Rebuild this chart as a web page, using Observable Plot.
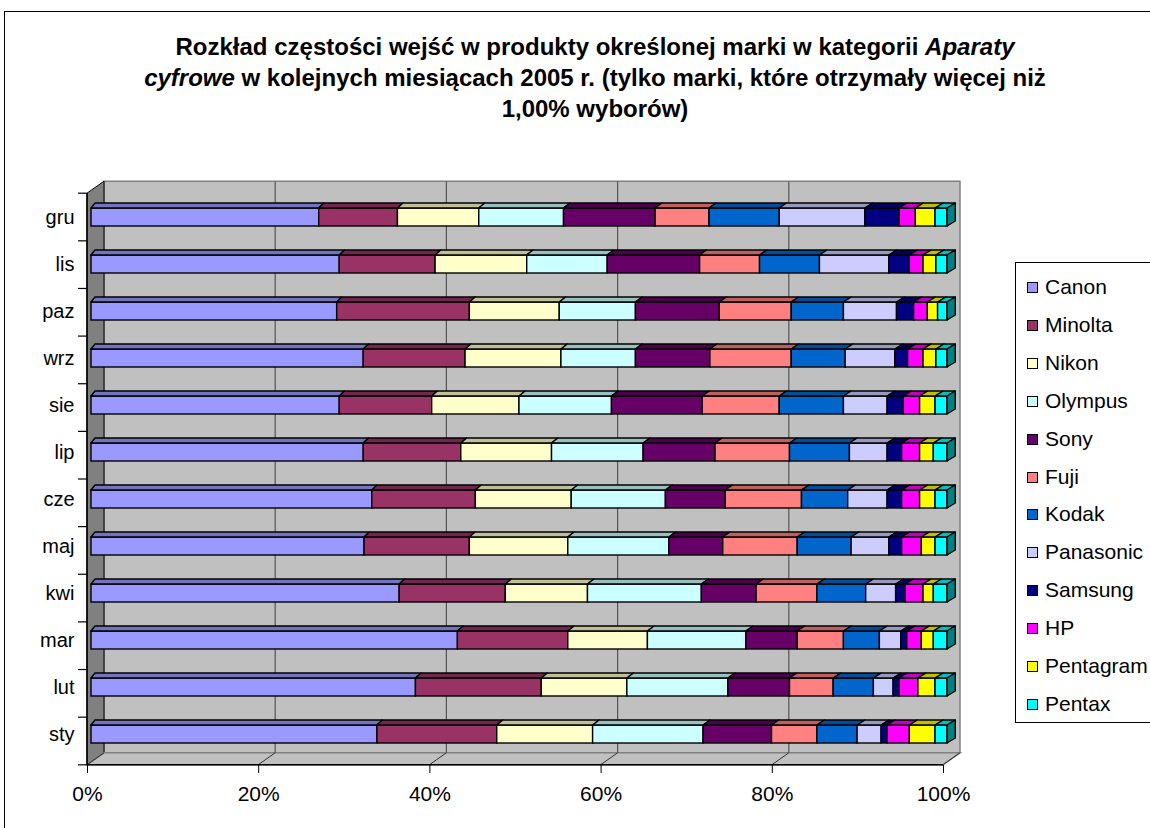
<!DOCTYPE html>
<html><head><meta charset="utf-8">
<script src="https://cdn.jsdelivr.net/npm/d3@7"></script>
<script src="https://cdn.jsdelivr.net/npm/@observablehq/plot@0.6"></script>
<style>
body{margin:0;background:#fff;font-family:"Liberation Sans",Arial,sans-serif;}
#wrap{position:relative;width:1150px;height:828px;overflow:hidden;background:#fff;}
#frame{position:absolute;left:4px;top:11px;width:1200px;height:900px;border:1px solid #000;}
#title{position:absolute;left:0;width:1190px;top:31px;text-align:center;font-weight:bold;font-size:24px;line-height:31px;color:#000;}
#chart{position:absolute;left:0;top:0;}
#legend{position:absolute;left:1015px;top:262px;width:170px;height:459px;border:1px solid #000;background:#fff;}
.li{position:absolute;left:0;height:24px;line-height:24px;font-size:21px;white-space:nowrap;}
.sw{position:absolute;left:11px;top:7px;width:9px;height:9px;border:1px solid #000;}
.lt{position:absolute;left:29px;top:0;}
</style></head>
<body>
<div id="wrap">
  <div id="frame"></div>
  <div id="chart"></div>
  <div id="title">Rozkład częstości wejść w produkty określonej marki w kategorii <i>Aparaty</i><br><i>cyfrowe</i> w kolejnych miesiącach 2005 r. (tylko marki, które otrzymały więcej niż<br>1,00% wyborów)</div>
  <div id="legend"></div>
</div>
<script>
// Months (chronological)
const months = ["sty","lut","mar","kwi","maj","cze","lip","sie","wrz","paz","lis","gru"];
// Brands (stack order)
const brands = ["Canon","Minolta","Nikon","Olympus","Sony","Fuji","Kodak","Panasonic","Samsung","HP","Pentagram","Pentax"];
const colors = ["#9999FF","#993366","#FFFFCC","#CCFFFF","#660066","#FF8080","#0066CC","#CCCCFF","#000080","#FF00FF","#FFFF00","#00FFFF"];
// Shares (%) per month, sty..gru
const canon     = [33.4,37.9,42.8,36.0,31.9,32.8,31.8,29.0,31.8,28.7,29.0,26.6];
const minolta   = [14.0,14.7,12.9,12.4,12.3,12.1,11.4,10.8,11.9,15.5,11.2, 9.2];
const nikon     = [11.2,10.0, 9.3, 9.6,11.5,11.2,10.6,10.2,11.2,10.5,10.7, 9.5];
const olympus   = [12.9,11.8,11.5,13.3,11.8,11.0,10.7,10.8, 8.7, 8.9, 9.4, 9.9];
const sony      = [ 8.0, 7.2, 6.0, 6.4, 6.3, 7.0, 8.4,10.6, 8.7, 9.8,10.8,10.7];
const fuji      = [ 5.3, 5.1, 5.4, 7.1, 8.7, 8.9, 8.7, 9.0, 9.5, 8.4, 7.0, 6.3];
const kodak     = [ 4.7, 4.7, 4.2, 5.7, 6.3, 5.4, 7.0, 7.5, 6.3, 6.1, 7.0, 8.2];
const panasonic = [ 2.8, 2.3, 2.5, 3.5, 4.4, 4.6, 4.4, 5.1, 5.8, 6.2, 8.1,10.0];
const samsung   = [ 0.7, 0.7, 0.7, 1.1, 1.5, 1.7, 1.7, 1.9, 1.5, 2.0, 2.4, 4.0];
const hp        = [ 2.6, 2.2, 1.7, 2.1, 2.3, 2.1, 2.1, 1.9, 1.8, 1.6, 1.6, 1.9];
const pentagram = [ 3.0, 2.0, 1.4, 1.2, 1.6, 1.8, 1.6, 1.8, 1.5, 1.2, 1.5, 2.3];
const pentax    = [ 1.4, 1.4, 1.6, 1.6, 1.4, 1.4, 1.6, 1.4, 1.3, 1.1, 1.3, 1.4];
const xTicks = [0, 0.2, 0.4, 0.6, 0.8, 1];

const series = [canon,minolta,nikon,olympus,sony,fuji,kodak,panasonic,samsung,hp,pentagram,pentax];

// 100% stacked table
const rows = [];
months.forEach((m, i) => {
  const total = d3.sum(series, s => s[i]);
  let acc = 0;
  brands.forEach((b, j) => {
    const v = series[j][i] / total;
    rows.push({month: m, brand: b, x1: acc, x2: acc + v, last: j === brands.length - 1});
    acc += v;
  });
});

const W = 1150, H = 828;
const plot = Plot.plot({
  width: W, height: H,
  marginLeft: 91, marginRight: 203, marginTop: 190, marginBottom: 63,
  style: {fontFamily: "'Liberation Sans', Arial, sans-serif", color: "#000", background: "transparent", overflow: "visible"},
  x: {domain: [0, 1]},
  y: {domain: months.slice().reverse(), range: [190.2, 760.8], paddingInner: 0.62, paddingOuter: 0.31},
  color: {domain: brands, range: colors},
  marks: [
    Plot.barX(rows, {x1: "x1", x2: "x2", y: "month", fill: "brand", stroke: "#000", strokeWidth: 1.4, inset: 0}),
    Plot.axisY({anchor: "left", tickSize: 0, tickPadding: 17, fontSize: 20, label: null}),
    Plot.axisX({anchor: "bottom", ticks: xTicks, tickFormat: d3.format(".0%"), tickSize: 8, tickPadding: 13, fontSize: 21, label: null, dx: -4, stroke: "#000"})
  ]
});
document.getElementById("chart").appendChild(plot);

// 3D decorations from the library's scales
const X = plot.scale("x"), Y = plot.scale("y");
const sx = v => X.apply(v);
const sy = m => Y.apply(m);
const bw = Y.bandwidth != null ? Y.bandwidth : 18;
const yTop = Y.range[0], yBot = Y.range[1] + 1;
const FX = -4, FY = 3, BX = 13, BY = -9;
const svg = d3.select(plot);
const pts = a => a.map(p => p.join(",")).join(" ");
const shade = (c, k) => { const r = d3.rgb(c); return d3.rgb(r.r * k, r.g * k, r.b * k).formatHex(); };

const walls = svg.insert("g", ":first-child");
// back wall
walls.append("polygon").attr("points", pts([[sx(0)+BX, yTop+BY],[sx(1)+BX, yTop+BY],[sx(1)+BX, yBot+BY],[sx(0)+BX, yBot+BY]]))
  .attr("fill", "#c0c0c0").attr("stroke", "#808080").attr("stroke-width", 1.5);
// left wall
walls.append("polygon").attr("points", pts([[sx(0)+FX, yTop+FY],[sx(0)+BX, yTop+BY],[sx(0)+BX, yBot+BY],[sx(0)+FX, yBot+FY]]))
  .attr("fill", "#808080").attr("stroke", "#000").attr("stroke-width", 1);
// floor
walls.append("polygon").attr("points", pts([[sx(0)+FX, yBot+FY],[sx(0)+BX, yBot+BY],[sx(1)+BX, yBot+BY],[sx(1)+FX, yBot+FY]]))
  .attr("fill", "#c0c0c0").attr("stroke", "#808080").attr("stroke-width", 1.5);
// gridlines on back wall and floor
xTicks.forEach(v => {
  if (v > 0 && v < 1) {
    walls.append("line").attr("x1", sx(v)+BX).attr("x2", sx(v)+BX).attr("y1", yTop+BY).attr("y2", yBot+BY)
      .attr("stroke", "#555").attr("stroke-width", 1.2);
  }
  walls.append("line").attr("x1", sx(v)+FX).attr("y1", yBot+FY).attr("x2", sx(v)+BX).attr("y2", yBot+BY)
    .attr("stroke", "#333").attr("stroke-width", 1);
});
// front axis lines
walls.append("line").attr("x1", sx(0)+FX).attr("x2", sx(1)+FX).attr("y1", yBot+FY).attr("y2", yBot+FY).attr("stroke", "#000").attr("stroke-width", 1.5);
walls.append("line").attr("x1", sx(0)+FX).attr("x2", sx(0)+FX).attr("y1", yTop+FY).attr("y2", yBot+FY).attr("stroke", "#000").attr("stroke-width", 1.5);
for (let i = 0; i <= months.length; i++) {
  const yy = yTop + FY + i * (yBot - yTop) / months.length;
  walls.append("line").attr("x1", sx(0)+FX-9).attr("x2", sx(0)+FX).attr("y1", yy).attr("y2", yy).attr("stroke", "#000").attr("stroke-width", 1.2);
}

// bar top faces and right end side
const faces = svg.append("g").attr("stroke", "#000").attr("stroke-width", 1.4).attr("stroke-linejoin", "round");
const depth = 5;
const ddx = v => 4 + 4.3 * v;
rows.forEach(r => {
  const y0 = sy(r.month);
  const c = colors[brands.indexOf(r.brand)];
  faces.append("polygon").attr("points", pts([[sx(r.x1), y0],[sx(r.x2), y0],[sx(r.x2)+ddx(r.x2), y0-depth],[sx(r.x1)+ddx(r.x1), y0-depth]]))
    .attr("fill", shade(c, 0.75));
  if (r.last) {
    faces.append("polygon").attr("points", pts([[sx(r.x2), y0],[sx(r.x2)+ddx(r.x2), y0-depth],[sx(r.x2)+ddx(r.x2), y0+bw-depth],[sx(r.x2), y0+bw]]))
      .attr("fill", shade(c, 0.5));
  }
});

// legend
const lg = document.getElementById("legend");
brands.forEach((b, i) => {
  const d = document.createElement("div");
  d.className = "li";
  d.style.top = (24 - 12 + i * 37.9) + "px";
  d.innerHTML = `<span class="sw" style="background:${colors[i]}"></span><span class="lt">${b}</span>`;
  lg.appendChild(d);
});
</script>
</body></html>
